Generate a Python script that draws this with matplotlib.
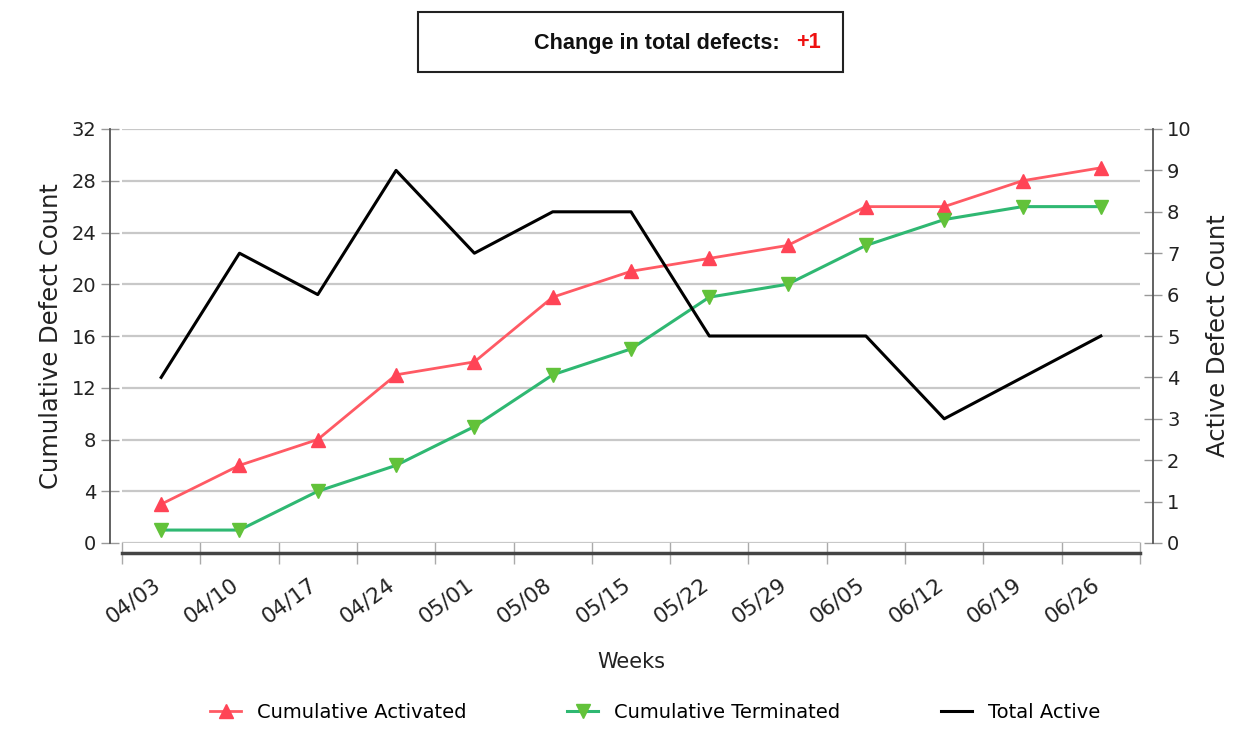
import numpy as np
import matplotlib.pyplot as plt
import matplotlib.transforms as mtransforms
from matplotlib.patches import Rectangle

# data
weeks = ['04/03', '04/10', '04/17', '04/24', '05/01', '05/08', '05/15',
         '05/22', '05/29', '06/05', '06/12', '06/19', '06/26']
activated = [3, 6, 8, 13, 14, 19, 21, 22, 23, 26, 26, 28, 29]
terminated = [1, 1, 4, 6, 9, 13, 15, 19, 20, 23, 25, 26, 26]
total_active = [4, 7, 6, 9, 7, 8, 8, 5, 5, 5, 3, 4, 5]
left_ticks = [0, 4, 8, 12, 16, 20, 24, 28, 32]
right_ticks = [0, 1, 2, 3, 4, 5, 6, 7, 8, 9, 10]
change_text = '+1'

W, H = 1253, 747
fig = plt.figure(figsize=(W/100, H/100), dpi=100)
fig.set_facecolor('white')

ax = fig.add_axes([122/W, 1-543/H, (1140-122)/W, (543-129)/H])
ax2 = ax.twinx()

x = np.arange(len(weeks))

# left axis: cumulative counts
l1, = ax.plot(x, activated, color='#ff5a64', lw=2, marker='^', ms=10.5,
              markerfacecolor='#ff4456', markeredgecolor='#ff4456',
              label='Cumulative Activated', zorder=3)
l2, = ax.plot(x, terminated, color='#2fb872', lw=2.2, marker='v', ms=10.5,
              markerfacecolor='#62c23a', markeredgecolor='#62c23a',
              label='Cumulative Terminated', zorder=3)
# right axis: total active
l3, = ax2.plot(x, total_active, color='black', lw=2.2, label='Total Active')

ax.set_xlim(-0.5, len(weeks)-0.5)
ax.set_ylim(0, 32)
ax2.set_ylim(0, 10)
ax.set_yticks(left_ticks)
ax2.set_yticks(right_ticks)

# horizontal grid only
ax.grid(True, axis='y', color='#c8c8c8', lw=1.6)
ax.set_axisbelow(True)

# spines
for a in (ax, ax2):
    a.spines['top'].set_visible(False)
ax.spines['right'].set_visible(False)
ax2.spines['left'].set_visible(False)
ax2.spines['bottom'].set_visible(False)
ax.spines['left'].set_position(('outward', 9))
ax2.spines['right'].set_position(('outward', 9))
ax.spines['bottom'].set_position(('outward', 7.5))
ax.spines['left'].set_color('#555555')
ax2.spines['right'].set_color('#555555')
ax.spines['left'].set_linewidth(1.3)
ax2.spines['right'].set_linewidth(1.3)
ax.spines['bottom'].set_color('#444444')
ax.spines['bottom'].set_linewidth(2.5)

# ticks
ax.tick_params(axis='y', direction='inout', length=13, width=1, color='#999999',
               labelsize=14, pad=3, labelcolor='#222222')
ax2.tick_params(axis='y', direction='inout', length=13, width=1, color='#999999',
                labelsize=14, pad=4, labelcolor='#222222')
ax.set_xticks(x)
ax.set_xticks(np.arange(-0.5, len(weeks)), minor=True)
ax.set_xticklabels(weeks, rotation=36, ha='right', va='top',
                   rotation_mode='anchor', fontsize=15.5, color='#222222')
ax.tick_params(axis='x', which='major', length=0, pad=15)
ax.tick_params(axis='x', which='minor', direction='inout', length=16,
               width=1, color='#aaaaaa')
shift = mtransforms.ScaledTranslation(-9/100, 0, fig.dpi_scale_trans)
for lab in ax.get_xticklabels():
    lab.set_transform(lab.get_transform() + shift)

ax.set_ylabel('Cumulative Defect Count', fontsize=17.5, color='#222222', labelpad=6)
ax2.set_ylabel('Active Defect Count', fontsize=17.5, color='#222222', labelpad=10)
ax.set_xlabel('Weeks', fontsize=15, color='#222222', labelpad=18)

# legend
fig.legend([l1, l2, l3], [l.get_label() for l in (l1, l2, l3)],
           loc='center', bbox_to_anchor=(655/W, 1-712/H), ncol=3,
           frameon=False, fontsize=14, columnspacing=5.2, handlelength=1.6,
           handletextpad=0.8)

# header box
fig.patches.append(Rectangle((418/W, 1-72/H), 425/W, 60/H, transform=fig.transFigure,
                             facecolor='white', edgecolor='#222222', lw=1.5))
fig.text(780/W, 1-43/H, 'Change in total defects:', ha='right', va='center',
         fontsize=15.6, fontweight='bold', family='Liberation Sans', color='#111111')
fig.text(796/W, 1-43/H, change_text, ha='left', va='center',
         fontsize=15.6, fontweight='bold', family='Liberation Sans', color='#ee1111')

fig.savefig('out.png', dpi=100)
